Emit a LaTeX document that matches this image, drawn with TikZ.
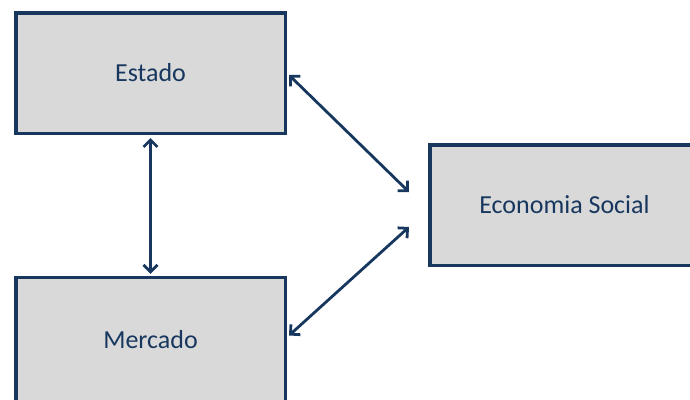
\documentclass[tikz,border=0pt]{standalone}
\usepackage{xcolor}
\usepackage{fontspec}
\setmainfont{Carlito}
\usetikzlibrary{arrows.meta}
\definecolor{navy}{HTML}{17375E}
\definecolor{boxgray}{HTML}{D9D9D9}

\begin{document}
\begin{tikzpicture}[
	x=1pt, y=-1pt,
	box/.style = {shape=rectangle,
		draw=navy, line width=3.5pt, fill=boxgray,
		minimum width=269.5pt, minimum height=120.5pt,
		inner sep=0pt, align=center, text=navy,
		font=\fontsize{26}{31}\selectfont},
	link/.style = {draw=navy, line width=2.8pt,
		{Straight Barb[length=7pt,width=14pt]}-{Straight Barb[length=7pt,width=14pt]}}]
	\useasboundingbox (0,0) rectangle (690,399);
	\node[box] (estado) at (150.5,73) {Estado};
	\node[box, minimum height=124pt] (mercado) at (150.5,339.5) {Mercado};
	\node[box] (economia) at (564.5,205) {Economia Social};
	\draw[link] ([yshift=-3pt]estado.south) -- ([yshift=2pt]mercado.north);
	\draw[link] ([xshift=2pt,yshift=-2pt]estado.east) -- ([xshift=-19pt,yshift=13pt]economia.west);
	\draw[link] ([xshift=-19pt,yshift=-22pt]economia.west) -- ([xshift=2pt,yshift=4pt]mercado.east);
\end{tikzpicture}
\end{document}
